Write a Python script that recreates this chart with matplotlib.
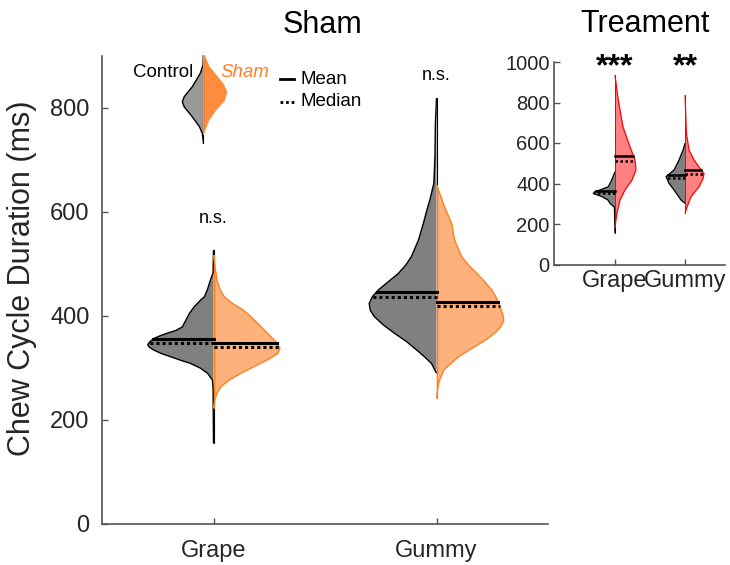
import numpy as np
import matplotlib.pyplot as plt

plt.rcParams['font.family'] = ['Liberation Sans', 'DejaVu Sans']

categories = ['Grape', 'Gummy']

# ---- main panel (Sham): half-violin outlines, duration (ms) vs half width (category units)
grape_ctrl_y = [526, 482, 468, 450, 436, 430, 417, 404, 391, 378, 371, 366, 361, 356, 350, 344, 339, 334, 327, 321, 314, 308, 299, 289, 276, 260, 154]
grape_ctrl_w = [0, 0.002, 0.014, 0.027, 0.041, 0.057, 0.086, 0.108, 0.124, 0.140, 0.170, 0.207, 0.240, 0.266, 0.285, 0.295, 0.288, 0.270, 0.235, 0.194, 0.148, 0.104, 0.060, 0.027, 0.005, 0.002, 0]
grape_sham_y = [516, 487, 468, 452, 436, 423, 411, 398, 385, 372, 359, 347, 337, 327, 315, 302, 289, 276, 263, 250, 238, 222]
grape_sham_w = [0, 0.009, 0.016, 0.027, 0.048, 0.086, 0.131, 0.168, 0.198, 0.228, 0.258, 0.285, 0.298, 0.288, 0.243, 0.183, 0.123, 0.071, 0.033, 0.015, 0.006, 0]
gummy_ctrl_y = [818, 769, 705, 654, 622, 600, 577, 545, 513, 497, 481, 465, 449, 436, 423, 410, 398, 382, 366, 350, 334, 321, 308, 289]
gummy_ctrl_w = [0, 0.005, 0.007, 0.012, 0.030, 0.045, 0.059, 0.081, 0.113, 0.138, 0.171, 0.216, 0.261, 0.288, 0.302, 0.297, 0.279, 0.239, 0.189, 0.135, 0.090, 0.055, 0.023, 0]
gummy_sham_y = [651, 641, 609, 577, 545, 513, 497, 481, 465, 449, 433, 417, 404, 391, 378, 366, 353, 340, 321, 295, 270, 241]
gummy_sham_w = [0, 0.009, 0.036, 0.068, 0.081, 0.113, 0.144, 0.180, 0.216, 0.248, 0.270, 0.284, 0.296, 0.302, 0.288, 0.261, 0.221, 0.171, 0.099, 0.032, 0.009, 0]
ctrl_mean = [355, 446]
ctrl_median = [348, 435]
sham_mean = [347, 426]
sham_median = [340, 418]

# legend violin
leg_ctrl_y = [904, 882, 866, 840, 821, 811, 801, 782, 763, 750, 731]
leg_ctrl_w = [0, 0.002, 0.014, 0.050, 0.086, 0.095, 0.086, 0.050, 0.018, 0.005, 0]
leg_sham_y = [904, 879, 866, 846, 830, 814, 795, 776, 756, 750]
leg_sham_w = [0, 0.023, 0.048, 0.086, 0.104, 0.093, 0.054, 0.023, 0.005, 0]

# ---- inset (Treatment)
t_grape_ctrl_y = [458, 417, 384, 370, 360, 351, 335, 318, 302, 285, 277, 154]
t_grape_ctrl_w = [0, 0.047, 0.096, 0.200, 0.286, 0.310, 0.186, 0.100, 0.071, 0.014, 0.007, 0]
t_grape_trt_y = [936, 812, 680, 582, 516, 467, 417, 368, 318, 254, 187]
t_grape_trt_w = [0, 0.047, 0.114, 0.214, 0.286, 0.300, 0.243, 0.143, 0.071, 0.029, 0]
t_gummy_ctrl_y = [600, 565, 516, 467, 434, 401, 368, 318, 302]
t_gummy_ctrl_w = [0, 0.029, 0.086, 0.157, 0.271, 0.229, 0.157, 0.057, 0]
t_gummy_trt_y = [837, 649, 565, 516, 467, 450, 425, 384, 335, 285, 253]
t_gummy_trt_w = [0, 0.019, 0.057, 0.129, 0.229, 0.271, 0.257, 0.200, 0.086, 0.029, 0]
t_ctrl_mean = [362, 442]
t_ctrl_median = [355, 425]
t_trt_mean = [536, 467]
t_trt_median = [513, 447]
t_stars = ['***', '**']


def half_violin(ax, xc, ys, ws, side, face, edge, lw=1.0):
    ys = np.asarray(ys, float)
    ws = np.asarray(ws, float)
    ax.fill_betweenx(ys, xc, xc + side * ws, facecolor=face, edgecolor='none', zorder=2)
    ax.plot(xc + side * ws, ys, color=edge, lw=lw, zorder=3, solid_capstyle='butt')
    ax.plot([xc, xc], [ys.min(), ys.max()], color=edge, lw=lw * 0.8, zorder=3)


def stat_line(ax, xc, ys, ws, side, val, ls, lw):
    order = np.argsort(ys)
    w = np.interp(val, np.asarray(ys)[order], np.asarray(ws)[order])
    ax.plot([xc, xc + side * w], [val, val], color='black', ls=ls, lw=lw, zorder=4)


fig = plt.figure(figsize=(7.3, 5.65), dpi=100)

# main axes
ax = fig.add_axes([102 / 730, 41.5 / 565, 446 / 730, 468 / 565])
gray = '#808080'
orange_face = '#FFB17C'
orange_edge = '#FF7F1A'

main_sets = [
    (grape_ctrl_y, grape_ctrl_w, grape_sham_y, grape_sham_w),
    (gummy_ctrl_y, gummy_ctrl_w, gummy_sham_y, gummy_sham_w),
]
for i, (cy, cw, sy, sw) in enumerate(main_sets):
    xc = i + 1
    half_violin(ax, xc, cy, cw, -1, gray, 'black')
    half_violin(ax, xc, sy, sw, 1, orange_face, orange_edge)
    stat_line(ax, xc, cy, cw, -1, ctrl_mean[i], '-', 2.2)
    stat_line(ax, xc, cy, cw, -1, ctrl_median[i], (0, (1, 1)), 2.2)
    stat_line(ax, xc, sy, sw, 1, sham_mean[i], '-', 2.2)
    stat_line(ax, xc, sy, sw, 1, sham_median[i], (0, (1, 1)), 2.2)

ax.text(1, 587, 'n.s.', ha='center', va='center', fontsize=13)
ax.text(2, 862, 'n.s.', ha='center', va='center', fontsize=13)

# legend drawn inside the axes
lx = 0.955
half_violin(ax, lx, leg_ctrl_y, leg_ctrl_w, -1, '#999999', 'black')
half_violin(ax, lx, leg_sham_y, leg_sham_w, 1, '#FF8C3C', '#FF8C3C')
ax.text(0.91, 868, 'Control', ha='right', va='center', fontsize=13.5)
ax.text(1.03, 868, 'Sham', ha='left', va='center', fontsize=13.5,
        style='italic', color='#FF7F27')
ax.plot([1.30, 1.36], [854, 854], color='black', lw=2)
ax.text(1.39, 854, 'Mean', ha='left', va='center', fontsize=13.5)
ax.plot([1.30, 1.36], [811, 811], color='black', lw=2, ls=(0, (1, 1)))
ax.text(1.39, 811, 'Median', ha='left', va='center', fontsize=13.5)

ax.set_xlim(0.5, 2.5)
ax.set_ylim(0, 900)
ax.set_xticks([1, 2])
ax.set_xticklabels(categories)
ax.set_yticks([0, 200, 400, 600, 800])
for s in ['top', 'right']:
    ax.spines[s].set_visible(False)
for s in ['left', 'bottom']:
    ax.spines[s].set_color('#555555')
    ax.spines[s].set_linewidth(1.2)
ax.tick_params(direction='in', length=4, width=1, color='#555555',
               labelsize=17, labelcolor='#262626')
ax.tick_params(axis='x', pad=12)
ax.tick_params(axis='y', pad=9)

fig.text(22 / 730, 1 - 278 / 565, 'Chew Cycle Duration (ms)', rotation=90,
         ha='center', va='center', fontsize=22, color='#262626')
fig.text(322 / 730, 1 - 25 / 565, 'Sham', ha='center', va='center', fontsize=22)

# inset axes
ax2 = fig.add_axes([554 / 730, 300.5 / 565, 171 / 730, 202.5 / 565])
red_face = '#FF8080'
red_edge = '#FF0000'
inset_sets = [
    (t_grape_ctrl_y, t_grape_ctrl_w, t_grape_trt_y, t_grape_trt_w),
    (t_gummy_ctrl_y, t_gummy_ctrl_w, t_gummy_trt_y, t_gummy_trt_w),
]
for i, (cy, cw, sy, sw) in enumerate(inset_sets):
    xc = i + 1
    half_violin(ax2, xc, cy, cw, -1, gray, 'black', 0.9)
    half_violin(ax2, xc, sy, sw, 1, red_face, red_edge, 0.9)
    stat_line(ax2, xc, cy, cw, -1, t_ctrl_mean[i], '-', 1.8)
    stat_line(ax2, xc, cy, cw, -1, t_ctrl_median[i], (0, (1, 1)), 1.8)
    stat_line(ax2, xc, sy, sw, 1, t_trt_mean[i], '-', 1.8)
    stat_line(ax2, xc, sy, sw, 1, t_trt_median[i], (0, (1, 1)), 1.8)
    ax2.text(xc, 975, t_stars[i], ha='center', va='center', fontsize=23,
             fontweight='bold', clip_on=False)

ax2.set_xlim(0.13, 2.57)
ax2.set_ylim(0, 1000)
ax2.set_xticks([1, 2])
ax2.set_xticklabels(categories)
ax2.set_yticks([0, 200, 400, 600, 800, 1000])
for s in ['top', 'right']:
    ax2.spines[s].set_visible(False)
for s in ['left', 'bottom']:
    ax2.spines[s].set_color('#555555')
    ax2.spines[s].set_linewidth(1.2)
ax2.tick_params(direction='in', length=4, width=1, color='#555555',
                labelcolor='#262626')
ax2.tick_params(axis='x', labelsize=17, pad=4)
ax2.tick_params(axis='y', labelsize=14.5, pad=3)

fig.text(645 / 730, 1 - 24 / 565, 'Treament', ha='center', va='center', fontsize=22)

fig.savefig('out.png', dpi=100)
